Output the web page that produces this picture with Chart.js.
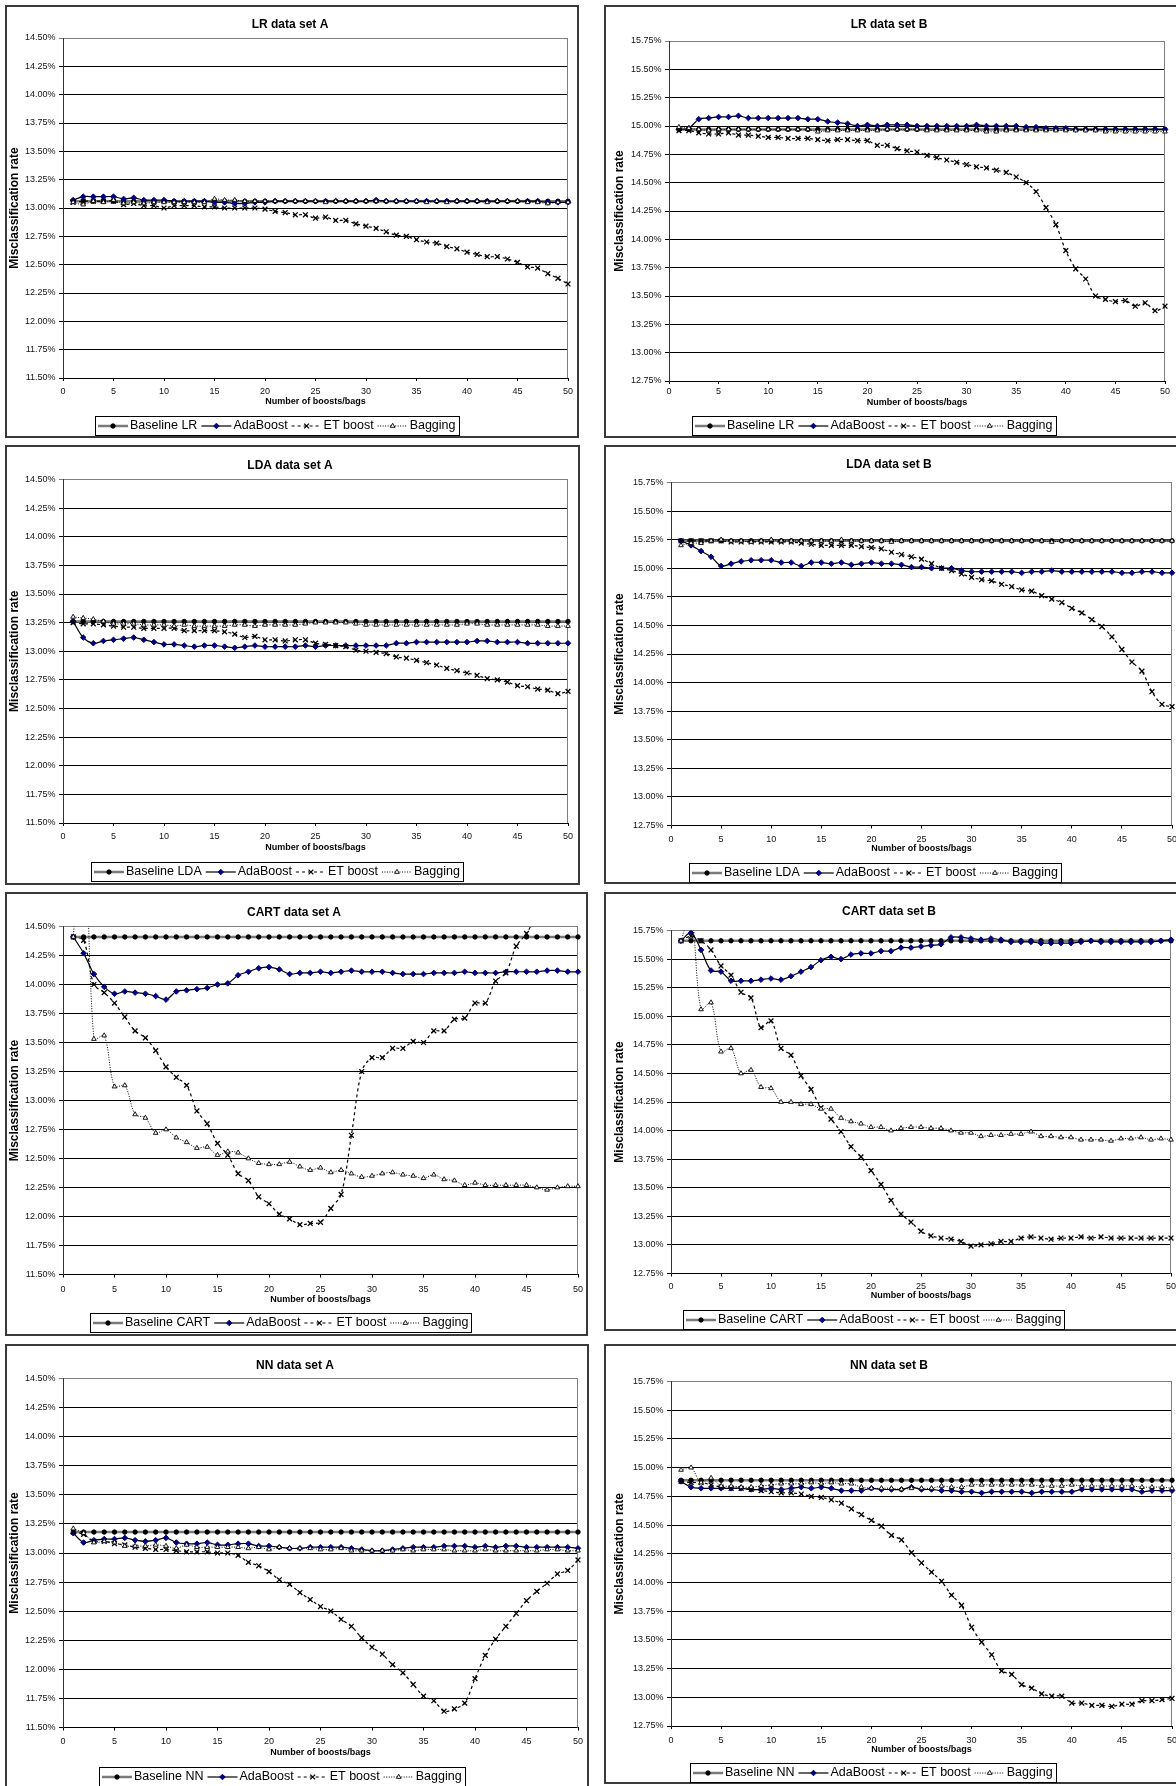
<!DOCTYPE html>
<html><head><meta charset="utf-8">
<script src="https://cdn.jsdelivr.net/npm/chart.js@4.4.1/dist/chart.umd.min.js"></script>
<style>
html,body{margin:0;padding:0;background:#fff;}
body{width:1176px;height:1786px;overflow:hidden;position:relative;}
.frame{position:absolute;border:2px solid #3a3a3a;box-sizing:border-box;}
canvas{position:absolute;}
</style></head><body>
<script>
// ---------- data ----------
const boosts = [1,2,3,4,5,6,7,8,9,10,11,12,13,14,15,16,17,18,19,20,21,22,23,24,25,26,27,28,29,30,31,32,33,34,35,36,37,38,39,40,41,42,43,44,45,46,47,48,49,50];
const xTickLabels = ['0','5','10','15','20','25','30','35','40','45','50'];
const yTickLabelsA = ['11.50%','11.75%','12.00%','12.25%','12.50%','12.75%','13.00%','13.25%','13.50%','13.75%','14.00%','14.25%','14.50%'];
const yTickLabelsB = ['12.75%','13.00%','13.25%','13.50%','13.75%','14.00%','14.25%','14.50%','14.75%','15.00%','15.25%','15.50%','15.75%'];
const seriesNames = ['AdaBoost','ET boost','Bagging'];

// LR data set A
const lrA_base = [13.06,13.06,13.06,13.06,13.06,13.06,13.06,13.06,13.06,13.06,13.06,13.06,13.06,13.06,13.06,13.06,13.06,13.06,13.06,13.06,13.06,13.06,13.06,13.06,13.06,13.06,13.06,13.06,13.06,13.06,13.06,13.06,13.06,13.06,13.06,13.06,13.06,13.06,13.06,13.06,13.06,13.06,13.06,13.06,13.06,13.06,13.06,13.06,13.06,13.06];
const lrA_ada = [13.07,13.10,13.10,13.10,13.10,13.08,13.09,13.07,13.07,13.07,13.06,13.06,13.06,13.06,13.05,13.05,13.04,13.04,13.05,13.05,13.06,13.06,13.06,13.06,13.06,13.06,13.06,13.06,13.06,13.06,13.07,13.06,13.06,13.06,13.06,13.06,13.06,13.06,13.06,13.06,13.06,13.06,13.06,13.06,13.06,13.06,13.06,13.05,13.05,13.05];
const lrA_et = [13.05,13.06,13.06,13.06,13.06,13.03,13.04,13.02,13.02,13.00,13.02,13.02,13.02,13.01,13.01,13.00,13.00,13.00,13.00,12.99,12.97,12.96,12.94,12.94,12.91,12.92,12.89,12.89,12.86,12.84,12.82,12.79,12.76,12.75,12.72,12.70,12.69,12.66,12.64,12.61,12.59,12.57,12.57,12.55,12.52,12.48,12.47,12.42,12.38,12.33];
const lrA_bag = [13.05,13.03,13.06,13.05,13.07,13.04,13.05,13.04,13.05,13.05,13.05,13.05,13.05,13.05,13.08,13.07,13.07,13.06,13.06,13.06,13.06,13.06,13.06,13.06,13.06,13.05,13.06,13.06,13.06,13.06,13.06,13.06,13.06,13.06,13.06,13.05,13.06,13.05,13.06,13.06,13.06,13.05,13.06,13.06,13.06,13.05,13.05,13.04,13.05,13.05];

// LR data set B
const lrB_base = [14.97,14.97,14.97,14.97,14.97,14.97,14.97,14.97,14.97,14.97,14.97,14.97,14.97,14.97,14.97,14.97,14.97,14.97,14.97,14.97,14.97,14.97,14.97,14.97,14.97,14.97,14.97,14.97,14.97,14.97,14.97,14.97,14.97,14.97,14.97,14.97,14.97,14.97,14.97,14.97,14.97,14.97,14.97,14.97,14.97,14.97,14.97,14.97,14.97,14.97];
const lrB_ada = [14.97,14.98,15.06,15.07,15.08,15.08,15.09,15.07,15.07,15.07,15.07,15.07,15.07,15.06,15.06,15.04,15.03,15.02,15.00,15.01,15.00,15.01,15.01,15.01,15.00,15.00,15.00,15.00,15.00,15.00,15.01,15.00,15.00,15.00,15.00,14.99,14.99,14.98,14.98,14.98,14.97,14.97,14.97,14.97,14.97,14.97,14.97,14.97,14.97,14.97];
const lrB_et = [14.96,14.96,14.94,14.93,14.93,14.94,14.92,14.92,14.91,14.90,14.90,14.89,14.89,14.89,14.88,14.87,14.88,14.88,14.87,14.87,14.83,14.83,14.80,14.78,14.77,14.74,14.72,14.70,14.68,14.66,14.64,14.63,14.61,14.59,14.55,14.50,14.42,14.28,14.13,13.90,13.74,13.65,13.50,13.47,13.45,13.46,13.41,13.44,13.37,13.41];
const lrB_bag = [14.99,14.98,14.97,14.96,14.97,14.97,14.97,14.97,14.97,14.97,14.97,14.97,14.97,14.97,14.95,14.96,14.96,14.96,14.96,14.96,14.96,14.97,14.97,14.97,14.97,14.96,14.96,14.96,14.96,14.96,14.96,14.95,14.95,14.96,14.96,14.96,14.96,14.96,14.96,14.96,14.96,14.96,14.96,14.95,14.95,14.95,14.95,14.95,14.95,14.95];

// LDA data set A
const ldaA_base = [13.26,13.26,13.26,13.26,13.26,13.26,13.26,13.26,13.26,13.26,13.26,13.26,13.26,13.26,13.26,13.26,13.26,13.26,13.26,13.26,13.26,13.26,13.26,13.26,13.26,13.26,13.26,13.26,13.26,13.26,13.26,13.26,13.26,13.26,13.26,13.26,13.26,13.26,13.26,13.26,13.26,13.26,13.26,13.26,13.26,13.26,13.26,13.26,13.26,13.26];
const ldaA_ada = [13.26,13.12,13.07,13.09,13.10,13.11,13.12,13.10,13.08,13.06,13.06,13.05,13.04,13.05,13.05,13.04,13.03,13.04,13.05,13.04,13.04,13.04,13.04,13.05,13.04,13.05,13.05,13.05,13.05,13.05,13.05,13.05,13.07,13.07,13.08,13.08,13.08,13.08,13.08,13.08,13.09,13.09,13.08,13.08,13.08,13.07,13.07,13.07,13.07,13.07];
const ldaA_et = [13.25,13.24,13.24,13.23,13.22,13.21,13.21,13.20,13.20,13.20,13.20,13.18,13.18,13.18,13.18,13.17,13.15,13.12,13.13,13.10,13.10,13.09,13.10,13.10,13.07,13.06,13.05,13.04,13.01,13.00,12.99,12.98,12.95,12.94,12.92,12.90,12.88,12.85,12.83,12.81,12.79,12.76,12.75,12.73,12.70,12.69,12.67,12.66,12.63,12.65];
const ldaA_bag = [13.30,13.29,13.28,13.26,13.24,13.24,13.24,13.23,13.23,13.23,13.22,13.23,13.22,13.22,13.22,13.22,13.23,13.23,13.22,13.23,13.23,13.23,13.23,13.24,13.25,13.25,13.25,13.25,13.24,13.23,13.23,13.23,13.23,13.23,13.23,13.23,13.23,13.23,13.23,13.24,13.24,13.23,13.23,13.23,13.23,13.23,13.23,13.22,13.22,13.22];

// LDA data set B
const ldaB_base = [15.24,15.24,15.24,15.24,15.24,15.24,15.24,15.24,15.24,15.24,15.24,15.24,15.24,15.24,15.24,15.24,15.24,15.24,15.24,15.24,15.24,15.24,15.24,15.24,15.24,15.24,15.24,15.24,15.24,15.24,15.24,15.24,15.24,15.24,15.24,15.24,15.24,15.24,15.24,15.24,15.24,15.24,15.24,15.24,15.24,15.24,15.24,15.24,15.24,15.24];
const ldaB_ada = [15.24,15.20,15.15,15.10,15.02,15.04,15.06,15.07,15.07,15.07,15.05,15.05,15.02,15.05,15.05,15.04,15.05,15.03,15.04,15.05,15.04,15.04,15.03,15.01,15.01,15.00,15.00,15.00,14.98,14.97,14.97,14.97,14.97,14.97,14.96,14.97,14.97,14.98,14.97,14.97,14.97,14.97,14.97,14.97,14.96,14.96,14.97,14.97,14.96,14.96];
const ldaB_et = [15.24,15.24,15.24,15.24,15.24,15.23,15.23,15.23,15.23,15.23,15.23,15.23,15.22,15.21,15.20,15.20,15.20,15.20,15.19,15.18,15.17,15.14,15.12,15.10,15.08,15.04,15.00,14.98,14.95,14.92,14.90,14.89,14.86,14.84,14.81,14.80,14.76,14.73,14.70,14.65,14.61,14.55,14.49,14.40,14.29,14.18,14.10,13.92,13.81,13.79];
const ldaB_bag = [15.20,15.22,15.22,15.24,15.25,15.24,15.24,15.23,15.24,15.25,15.24,15.24,15.24,15.24,15.24,15.24,15.25,15.24,15.24,15.24,15.24,15.23,15.24,15.24,15.24,15.24,15.24,15.24,15.24,15.24,15.24,15.24,15.24,15.24,15.24,15.24,15.24,15.23,15.24,15.24,15.24,15.24,15.24,15.24,15.24,15.24,15.24,15.24,15.24,15.24];

// CART data set A
const cartA_base = [14.41,14.41,14.41,14.41,14.41,14.41,14.41,14.41,14.41,14.41,14.41,14.41,14.41,14.41,14.41,14.41,14.41,14.41,14.41,14.41,14.41,14.41,14.41,14.41,14.41,14.41,14.41,14.41,14.41,14.41,14.41,14.41,14.41,14.41,14.41,14.41,14.41,14.41,14.41,14.41,14.41,14.41,14.41,14.41,14.41,14.41,14.41,14.41,14.41,14.41];
const cartA_ada = [14.41,14.27,14.09,13.98,13.92,13.94,13.93,13.92,13.90,13.87,13.94,13.95,13.96,13.97,14.00,14.01,14.08,14.11,14.14,14.15,14.13,14.09,14.10,14.10,14.11,14.10,14.11,14.12,14.11,14.11,14.11,14.10,14.09,14.09,14.09,14.10,14.10,14.10,14.11,14.10,14.10,14.10,14.11,14.11,14.11,14.11,14.12,14.12,14.11,14.11];
const cartA_et = [14.41,14.38,14.00,13.93,13.84,13.72,13.60,13.54,13.43,13.29,13.20,13.13,12.91,12.80,12.63,12.53,12.37,12.31,12.17,12.11,12.02,11.98,11.93,11.94,11.95,12.07,12.19,12.70,13.25,13.37,13.37,13.45,13.45,13.51,13.50,13.60,13.60,13.70,13.71,13.84,13.84,14.03,14.10,14.33,14.44,14.60,14.75,14.90,15.05,15.20];
const cartA_bag = [14.41,15.60,13.53,13.56,13.12,13.13,12.88,12.85,12.72,12.75,12.68,12.64,12.59,12.60,12.53,12.56,12.55,12.50,12.46,12.45,12.45,12.47,12.43,12.40,12.42,12.38,12.40,12.37,12.34,12.35,12.37,12.38,12.36,12.35,12.33,12.36,12.32,12.31,12.27,12.29,12.27,12.27,12.27,12.27,12.27,12.25,12.23,12.25,12.26,12.26];

// CART data set B
const cartB_base = [15.66,15.66,15.66,15.66,15.66,15.66,15.66,15.66,15.66,15.66,15.66,15.66,15.66,15.66,15.66,15.66,15.66,15.66,15.66,15.66,15.66,15.66,15.66,15.66,15.66,15.66,15.66,15.66,15.66,15.66,15.66,15.66,15.66,15.66,15.66,15.66,15.66,15.66,15.66,15.66,15.66,15.66,15.66,15.66,15.66,15.66,15.66,15.66,15.66,15.66];
const cartB_ada = [15.66,15.73,15.58,15.40,15.39,15.31,15.31,15.31,15.32,15.33,15.32,15.35,15.39,15.43,15.49,15.52,15.50,15.54,15.55,15.55,15.57,15.57,15.60,15.60,15.61,15.62,15.63,15.69,15.69,15.68,15.67,15.68,15.67,15.65,15.65,15.65,15.64,15.64,15.64,15.64,15.65,15.66,15.65,15.65,15.65,15.65,15.65,15.65,15.66,15.67];
const cartB_et = [15.66,15.70,15.66,15.58,15.44,15.36,15.21,15.16,14.90,14.96,14.72,14.66,14.48,14.36,14.20,14.10,13.99,13.86,13.77,13.65,13.53,13.39,13.27,13.20,13.12,13.08,13.06,13.05,13.03,12.99,13.00,13.01,13.03,13.03,13.06,13.07,13.06,13.05,13.06,13.06,13.07,13.06,13.07,13.06,13.06,13.06,13.06,13.06,13.06,13.06];
const cartB_bag = [15.66,15.90,15.06,15.12,14.69,14.72,14.50,14.53,14.38,14.37,14.25,14.25,14.23,14.23,14.19,14.19,14.11,14.08,14.06,14.03,14.03,14.00,14.02,14.03,14.03,14.02,14.02,14.00,13.98,13.98,13.95,13.96,13.96,13.97,13.97,13.99,13.95,13.95,13.94,13.94,13.92,13.92,13.92,13.91,13.93,13.93,13.94,13.92,13.93,13.92];

// NN data set A
const nnA_base = [13.18,13.18,13.18,13.18,13.18,13.18,13.18,13.18,13.18,13.18,13.18,13.18,13.18,13.18,13.18,13.18,13.18,13.18,13.18,13.18,13.18,13.18,13.18,13.18,13.18,13.18,13.18,13.18,13.18,13.18,13.18,13.18,13.18,13.18,13.18,13.18,13.18,13.18,13.18,13.18,13.18,13.18,13.18,13.18,13.18,13.18,13.18,13.18,13.18,13.18];
const nnA_ada = [13.17,13.09,13.11,13.12,13.12,13.13,13.11,13.10,13.11,13.13,13.09,13.08,13.08,13.09,13.07,13.07,13.08,13.08,13.06,13.06,13.05,13.04,13.04,13.05,13.05,13.05,13.05,13.04,13.03,13.02,13.02,13.03,13.04,13.05,13.05,13.05,13.06,13.06,13.06,13.05,13.06,13.05,13.06,13.06,13.05,13.05,13.05,13.05,13.05,13.04];
const nnA_et = [13.18,13.16,13.10,13.10,13.08,13.07,13.05,13.04,13.03,13.03,13.02,13.01,13.01,13.01,13.00,13.00,12.98,12.92,12.89,12.84,12.77,12.73,12.66,12.60,12.54,12.50,12.43,12.37,12.27,12.19,12.13,12.04,11.97,11.87,11.77,11.73,11.64,11.66,11.71,11.92,12.12,12.26,12.37,12.48,12.59,12.67,12.74,12.82,12.85,12.94];
const nnA_bag = [13.21,13.17,13.09,13.10,13.09,13.06,13.06,13.06,13.07,13.06,13.04,13.07,13.05,13.05,13.05,13.05,13.05,13.04,13.05,13.03,13.05,13.04,13.04,13.04,13.03,13.03,13.04,13.02,13.02,13.02,13.02,13.02,13.03,13.02,13.03,13.03,13.03,13.02,13.02,13.02,13.03,13.02,13.02,13.02,13.02,13.02,13.03,13.03,13.02,13.02];

// NN data set B
const nnB_base = [14.89,14.89,14.89,14.89,14.89,14.89,14.89,14.89,14.89,14.89,14.89,14.89,14.89,14.89,14.89,14.89,14.89,14.89,14.89,14.89,14.89,14.89,14.89,14.89,14.89,14.89,14.89,14.89,14.89,14.89,14.89,14.89,14.89,14.89,14.89,14.89,14.89,14.89,14.89,14.89,14.89,14.89,14.89,14.89,14.89,14.89,14.89,14.89,14.89,14.89];
const nnB_ada = [14.88,14.83,14.82,14.82,14.82,14.82,14.82,14.81,14.81,14.82,14.81,14.82,14.83,14.82,14.83,14.82,14.80,14.80,14.80,14.82,14.81,14.81,14.81,14.83,14.81,14.81,14.80,14.80,14.79,14.79,14.78,14.79,14.79,14.79,14.79,14.78,14.79,14.79,14.79,14.79,14.81,14.81,14.81,14.81,14.81,14.81,14.79,14.80,14.80,14.80];
const nnB_et = [14.88,14.87,14.87,14.85,14.83,14.82,14.82,14.81,14.80,14.79,14.78,14.78,14.77,14.75,14.74,14.72,14.69,14.64,14.59,14.54,14.49,14.41,14.37,14.26,14.17,14.09,14.01,13.89,13.80,13.61,13.48,13.37,13.23,13.20,13.11,13.08,13.03,13.01,13.01,12.95,12.95,12.93,12.93,12.92,12.94,12.94,12.97,12.97,12.98,12.99];
const nnB_bag = [14.98,15.00,14.87,14.91,14.84,14.84,14.83,14.83,14.84,14.85,14.86,14.86,14.86,14.87,14.86,14.87,14.86,14.86,14.83,14.82,14.82,14.82,14.81,14.82,14.82,14.82,14.84,14.83,14.83,14.85,14.85,14.85,14.85,14.85,14.85,14.85,14.84,14.84,14.84,14.85,14.84,14.84,14.84,14.84,14.84,14.84,14.83,14.83,14.83,14.82];

// ---------- styles ----------
const FONT = '"Liberation Sans", Arial, Helvetica, sans-serif';
Chart.defaults.font.family = FONT;
Chart.defaults.color = '#000';

const styles = [
  {line:'#7a7a7a', width:2.5, dash:[],      point:'circle',   r:2.2, fill:'#000',    stroke:'#000',    pw:1},
  {line:'#000',    width:1.2, dash:[],      point:'rectRot',  r:2.8, fill:'#000080', stroke:'#000080', pw:1},
  {line:'#000',    width:1.2, dash:[3,3],   point:'crossRot', r:3.4, fill:'#000',    stroke:'#000',    pw:1.3},
  {line:'#000',    width:1,   dash:[1,1.5], point:'triangle', r:2.7, fill:'#fff',    stroke:'#000',    pw:0.9}
];

const panels = [
  {title:'LR data set A', base:'Baseline LR', series:[lrA_base,lrA_ada,lrA_et,lrA_bag], yl:yTickLabelsA,
   box:{x:5,y:5,w:574,h:433}, plot:{l:63,r:568,t:38,b:378}, tx:290, ty:25, yx:15, xl:14, xt:24, leg:{cx:277,y:416}},
  {title:'LR data set B', base:'Baseline LR', series:[lrB_base,lrB_ada,lrB_et,lrB_bag], yl:yTickLabelsB,
   box:{x:604,y:5,w:580,h:433}, plot:{l:669,r:1165,t:41,b:381}, tx:889, ty:25, yx:620, xl:10.5, xt:22, leg:{cx:874,y:416}},
  {title:'LDA data set A', base:'Baseline LDA', series:[ldaA_base,ldaA_ada,ldaA_et,ldaA_bag], yl:yTickLabelsA,
   box:{x:5,y:445,w:575,h:440}, plot:{l:63,r:568,t:479.5,b:823}, tx:290, ty:466, yx:15, xl:14, xt:25, leg:{cx:277,y:862}},
  {title:'LDA data set B', base:'Baseline LDA', series:[ldaB_base,ldaB_ada,ldaB_et,ldaB_bag], yl:yTickLabelsB,
   box:{x:604,y:445,w:580,h:439}, plot:{l:671,r:1172,t:482.5,b:825.5}, tx:889, ty:465, yx:620, xl:14, xt:23.5, leg:{cx:874.5,y:862.5}},
  {title:'CART data set A', base:'Baseline CART', series:[cartA_base,cartA_ada,cartA_et,cartA_bag], yl:yTickLabelsA,
   box:{x:5,y:892,w:583,h:444}, plot:{l:63,r:578,t:926.5,b:1274.5}, tx:294, ty:913, yx:15, xl:15, xt:25, leg:{cx:281,y:1313}},
  {title:'CART data set B', base:'Baseline CART', series:[cartB_base,cartB_ada,cartB_et,cartB_bag], yl:yTickLabelsB,
   box:{x:604,y:892,w:580,h:439}, plot:{l:671,r:1171,t:930.5,b:1273.5}, tx:889, ty:912, yx:620, xl:13.5, xt:22.5, leg:{cx:874,y:1309.5}},
  {title:'NN data set A', base:'Baseline NN', series:[nnA_base,nnA_ada,nnA_et,nnA_bag], yl:yTickLabelsA,
   box:{x:5,y:1344,w:584,h:450}, plot:{l:63,r:578,t:1378.5,b:1727.5}, tx:295, ty:1366, yx:15, xl:14.5, xt:25, leg:{cx:282,y:1767}},
  {title:'NN data set B', base:'Baseline NN', series:[nnB_base,nnB_ada,nnB_et,nnB_bag], yl:yTickLabelsB,
   box:{x:604,y:1344,w:580,h:440}, plot:{l:671,r:1172,t:1381.5,b:1726}, tx:889, ty:1366, yx:620, xl:15, xt:24, leg:{cx:872.5,y:1763}}
];

function drawMarker(ctx, st, x, y) {
  ctx.save();
  ctx.setLineDash([]);
  ctx.lineWidth = st.pw; ctx.strokeStyle = st.stroke; ctx.fillStyle = st.fill;
  const r = st.r;
  ctx.beginPath();
  if (st.point === 'circle') {
    ctx.arc(x, y, r, 0, Math.PI * 2); ctx.fill(); ctx.stroke();
  } else if (st.point === 'rectRot') {
    ctx.moveTo(x - r, y); ctx.lineTo(x, y - r); ctx.lineTo(x + r, y); ctx.lineTo(x, y + r); ctx.closePath();
    ctx.fill(); ctx.stroke();
  } else if (st.point === 'crossRot') {
    const o = r * Math.SQRT1_2;
    ctx.moveTo(x - o, y - o); ctx.lineTo(x + o, y + o);
    ctx.moveTo(x + o, y - o); ctx.lineTo(x - o, y + o);
    ctx.stroke();
  } else if (st.point === 'triangle') {
    let a = 0;
    ctx.moveTo(x + Math.sin(a) * r, y - Math.cos(a) * r);
    a += 2 * Math.PI / 3; ctx.lineTo(x + Math.sin(a) * r, y - Math.cos(a) * r);
    a += 2 * Math.PI / 3; ctx.lineTo(x + Math.sin(a) * r, y - Math.cos(a) * r);
    ctx.closePath(); ctx.fill(); ctx.stroke();
  }
  ctx.restore();
}

function decor(p) {
  return {
    id: 'decor',
    beforeDatasetsDraw(chart) {
      const {ctx, chartArea: a} = chart;
      ctx.save();
      ctx.strokeStyle = '#808080'; ctx.lineWidth = 1;
      ctx.beginPath();
      const rx = Math.round(a.right) - 0.5;
      ctx.moveTo(rx, a.top); ctx.lineTo(rx, a.bottom);
      ctx.stroke();
      ctx.restore();
    },
    afterDraw(chart) {
      const {ctx, chartArea: a} = chart;
      const bx = p.box.x, by = p.box.y;
      ctx.save();
      ctx.fillStyle = '#000';
      ctx.textAlign = 'center'; ctx.textBaseline = 'middle';
      // title
      ctx.font = 'bold 12px ' + FONT;
      ctx.fillText(p.title, p.tx - bx, p.ty - by);
      // x title
      ctx.font = 'bold 9px ' + FONT;
      ctx.fillText('Number of boosts/bags', (a.left + a.right) / 2, a.bottom + p.xt);
      // y title
      ctx.save();
      ctx.translate(p.yx - bx, (a.top + a.bottom) / 2);
      ctx.rotate(-Math.PI / 2);
      ctx.font = 'bold 12px ' + FONT;
      ctx.fillText('Misclassification rate', 0, 0);
      ctx.restore();
      // legend
      const labels = [p.base].concat(seriesNames);
      ctx.font = '12.5px ' + FONT;
      const sample = 30, gap = 2, itemGap = 4, pad = 3, h = 19;
      const widths = labels.map(t => ctx.measureText(t).width);
      let total = pad * 2 + itemGap * (labels.length - 1);
      widths.forEach(w => total += sample + gap + w);
      const left = Math.round(p.leg.cx - bx - total / 2);
      const top = Math.round(p.leg.y - by);
      ctx.strokeStyle = '#000'; ctx.lineWidth = 1;
      ctx.strokeRect(left + 0.5, top + 0.5, Math.round(total), h);
      const cy = top + h / 2 + 0.5;
      let x = left + pad;
      labels.forEach((t, k) => {
        const st = styles[k];
        ctx.save();
        ctx.strokeStyle = st.line; ctx.lineWidth = st.width; ctx.setLineDash(st.dash);
        ctx.beginPath(); ctx.moveTo(x, cy); ctx.lineTo(x + sample, cy); ctx.stroke();
        ctx.restore();
        drawMarker(ctx, st, x + sample / 2, cy);
        ctx.textAlign = 'left'; ctx.fillStyle = '#000';
        ctx.fillText(t, x + sample + gap, cy);
        x += sample + gap + widths[k] + itemGap;
      });
      ctx.restore();
    }
  };
}

function makePanel(p) {
  const frame = document.createElement('div');
  frame.className = 'frame';
  Object.assign(frame.style, {left: p.box.x + 'px', top: p.box.y + 'px', width: p.box.w + 'px', height: p.box.h + 'px'});
  document.body.appendChild(frame);
  const cv = document.createElement('canvas');
  cv.width = p.box.w; cv.height = p.box.h;
  Object.assign(cv.style, {left: p.box.x + 'px', top: p.box.y + 'px', width: p.box.w + 'px', height: p.box.h + 'px'});
  document.body.appendChild(cv);

  const L = p.plot.l - p.box.x, R = p.plot.r - p.box.x, T = p.plot.t - p.box.y, B = p.plot.b - p.box.y;
  const yVals = p.yl.map(s => parseFloat(s));
  const xVals = xTickLabels.map(s => parseFloat(s));
  const yMin = yVals[0], yMax = yVals[yVals.length - 1];

  const datasets = p.series.map((vals, k) => {
    const st = styles[k];
    return {
      label: k === 0 ? p.base : seriesNames[k - 1],
      data: boosts.map((b, i) => ({x: b, y: vals[i]})),
      borderColor: st.line, borderWidth: st.width, borderDash: st.dash,
      pointStyle: st.point, pointRadius: st.r, pointBackgroundColor: st.fill,
      pointBorderColor: st.stroke, pointBorderWidth: st.pw,
      tension: 0.33, fill: false, order: 4 - k,
      clip: {left: 8, right: 8, top: 0, bottom: 0}
    };
  });

  new Chart(cv, {
    type: 'line',
    data: {datasets},
    options: {
      responsive: false, animation: false, events: [], devicePixelRatio: 1,
      layout: {padding: {left: 0, top: T, right: p.box.w - R, bottom: 0}},
      plugins: {legend: {display: false}, title: {display: false}, tooltip: {enabled: false}},
      scales: {
        x: {
          type: 'linear', min: 0, max: 50,
          afterBuildTicks: s => { s.ticks = xVals.map(v => ({value: v})); },
          afterFit: s => { s.height = p.box.h - B; s.paddingLeft = 0; s.paddingRight = 0; },
          grid: {display: true, drawOnChartArea: false, drawTicks: true, tickLength: 3, color: '#000'},
          border: {display: true, color: '#000', width: 1},
          ticks: {autoSkip: false, maxRotation: 0, padding: p.xl - 3 - 5.4, font: {size: 9}, color: '#111',
                  callback: (v, i) => xTickLabels[i]}
        },
        y: {
          type: 'linear', min: yMin, max: yMax,
          afterBuildTicks: s => { s.ticks = yVals.map(v => ({value: v})); },
          afterFit: s => { s.width = L; s.paddingTop = 0; s.paddingBottom = 0; },
          grid: {display: true, drawOnChartArea: true, drawTicks: true, tickLength: 4,
                 color: c => (c.tick && c.tick.value === yMax) ? '#808080' : '#000', lineWidth: 1},
          border: {display: true, color: '#333', width: 1},
          ticks: {autoSkip: false, padding: 3.5, font: {size: 9}, color: '#111',
                  callback: (v, i) => p.yl[i]}
        }
      }
    },
    plugins: [decor(p)]
  });
}

panels.forEach(makePanel);
</script>
</body></html>
